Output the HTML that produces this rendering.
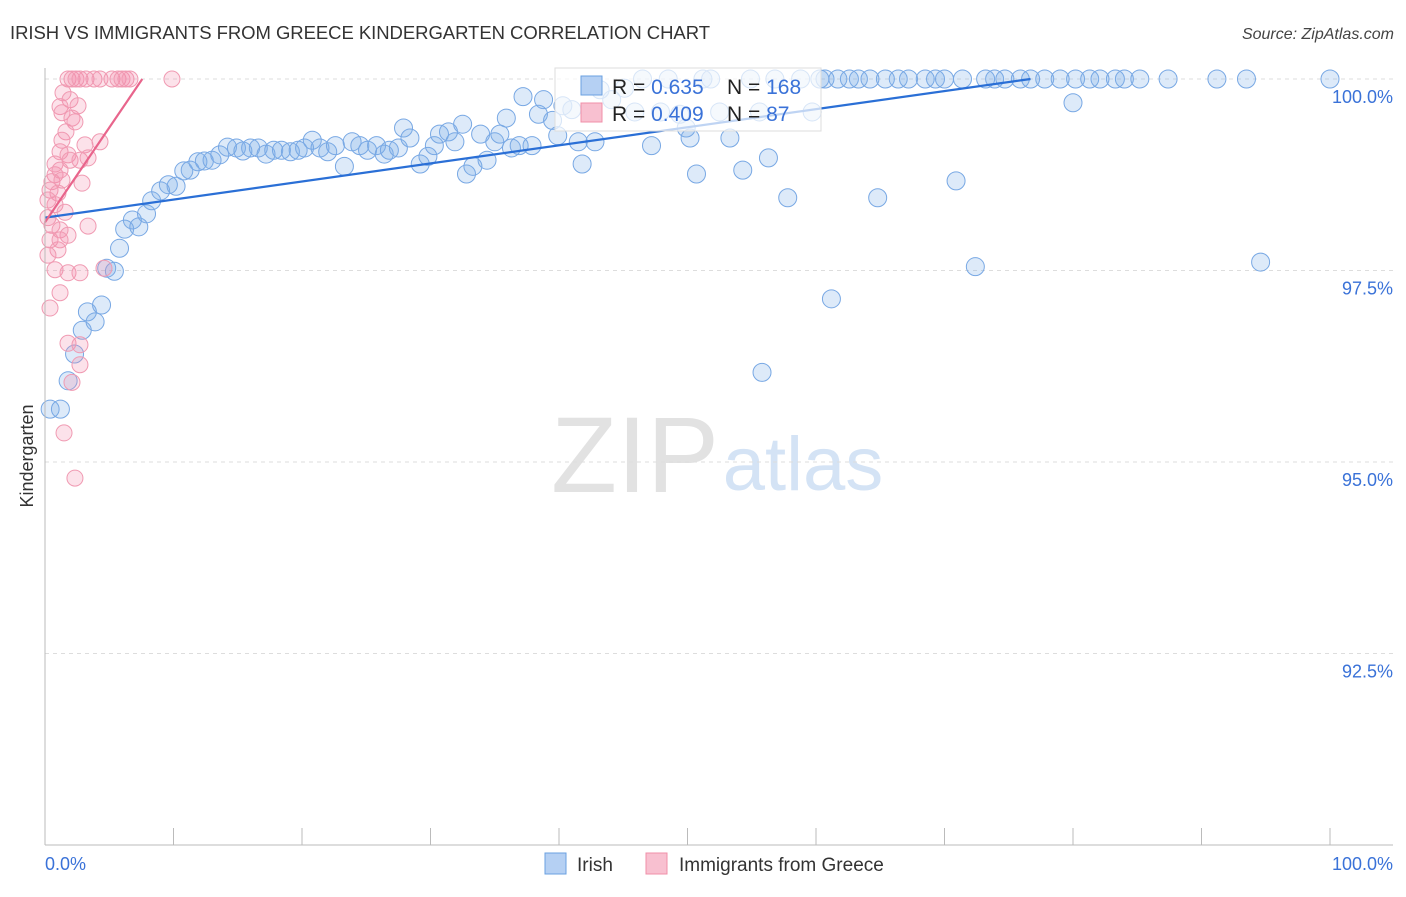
<!DOCTYPE html>
<html><head><meta charset="utf-8"><style>
body{margin:0;background:#fff;font-family:"Liberation Sans",sans-serif}
svg text{font-family:"Liberation Sans",sans-serif}
</style></head><body>
<svg id="c" width="1406" height="892" xmlns="http://www.w3.org/2000/svg">
<text x="10" y="39" font-size="18.5" fill="#333" textLength="700">IRISH VS IMMIGRANTS FROM GREECE KINDERGARTEN CORRELATION CHART</text>
<text x="1394" y="39" font-size="16" fill="#444" text-anchor="end" font-style="italic">Source: ZipAtlas.com</text>
<text x="635" y="492" font-size="108" fill="#e2e2e2" text-anchor="middle" font-family="Liberation Serif,serif">ZIP</text>
<text x="803" y="490" font-size="76" fill="#d4e3f5" text-anchor="middle">atlas</text>
<g id="grid"></g><g id="pts"></g><g id="lines"></g>
<line x1="45" y1="68" x2="45" y2="845" stroke="#bbb"/>
<line x1="45" y1="845" x2="1393" y2="845" stroke="#bbb"/>
<text x="45" y="870" font-size="18" fill="#3a72d8">0.0%</text>
<text x="1393" y="870" font-size="18" fill="#3a72d8" text-anchor="end">100.0%</text>
<text transform="translate(33,456) rotate(-90)" font-size="18" fill="#333" text-anchor="middle">Kindergarten</text>
<g>
<rect x="555" y="68" width="266" height="63" fill="#fff" fill-opacity="0.7" stroke="#ddd"/>
<rect x="581" y="76" width="21" height="19" fill="#b5d0f3" stroke="#6aa0e0"/>
<rect x="581" y="103" width="21" height="19" fill="#f8c0d0" stroke="#f08fa8"/>
<text x="612" y="94" font-size="21" fill="#222">R = <tspan fill="#3a72d8">0.635</tspan></text>
<text x="727" y="94" font-size="21" fill="#222">N = <tspan fill="#3a72d8">168</tspan></text>
<text x="612" y="121" font-size="21" fill="#222">R = <tspan fill="#3a72d8">0.409</tspan></text>
<text x="727" y="121" font-size="21" fill="#222">N = <tspan fill="#3a72d8">  87</tspan></text>
</g>
<g><rect x="545" y="853" width="21" height="21" fill="#b5d0f3" stroke="#6aa0e0"/><text x="577" y="871" font-size="19" fill="#333">Irish</text></g>
<g><rect x="646" y="853" width="21" height="21" fill="#f8c0d0" stroke="#f08fa8"/><text x="679" y="871" font-size="19" fill="#333">Immigrants from Greece</text></g>
</svg>
<script>
const yTicks=[100,97.5,95,92.5];
const yTickLabels=["100.0%","97.5%","95.0%","92.5%"];
const xTicks=[0,10,20,30,40,50,60,70,80,90,100];
const irishX=[0.4,1.2,1.8,2.3,2.9,3.3,3.9,4.4,4.8,5.4,5.8,6.2,6.8,7.3,7.9,8.3,9.0,9.6,10.2,10.8,11.3,11.9,12.4,13.0,13.6,14.2,14.9,15.4,16.0,16.6,17.2,17.8,18.4,19.1,19.7,20.2,20.8,21.4,22.0,22.6,23.3,23.9,24.5,25.1,25.8,26.4,26.8,27.5,27.9,28.4,29.2,29.8,30.3,30.7,31.4,31.9,32.5,32.8,33.3,33.9,34.4,35.0,35.4,35.9,36.3,36.9,37.2,37.9,38.4,38.8,39.5,39.9,40.3,41.0,41.5,41.8,42.8,43.2,44.1,45.1,45.9,46.5,47.2,47.9,48.5,49.4,49.9,50.2,50.7,51.2,51.8,52.5,53.3,54.3,54.9,55.6,56.3,56.8,57.8,58.8,59.7,60.3,60.7,61.2,61.7,62.6,63.3,64.2,64.8,65.4,66.4,67.2,68.5,69.3,70.0,70.9,71.4,72.4,73.2,73.9,74.7,75.9,76.7,77.8,79.0,80.0,80.2,81.3,82.1,83.3,84.0,85.2,87.4,91.2,93.5,94.6,100,55.8];
const irishY=[95.69,95.69,96.06,96.41,96.72,96.96,96.83,97.05,97.53,97.49,97.79,98.04,98.16,98.07,98.24,98.41,98.54,98.62,98.60,98.80,98.81,98.92,98.93,98.94,99.01,99.11,99.10,99.06,99.10,99.10,99.02,99.07,99.07,99.05,99.07,99.10,99.20,99.10,99.05,99.13,98.86,99.18,99.13,99.07,99.13,99.02,99.07,99.10,99.36,99.23,98.89,98.99,99.13,99.28,99.31,99.18,99.41,98.76,98.86,99.28,98.94,99.18,99.28,99.49,99.10,99.13,99.77,99.13,99.54,99.73,99.46,99.26,99.65,99.60,99.18,98.89,99.18,99.86,99.73,99.88,99.57,100,99.13,99.57,100,99.54,99.36,99.23,98.76,100,100,99.57,99.23,98.81,100,99.57,98.97,100,98.45,100,99.57,100,100,97.13,100,100,100,100,98.45,100,100,100,100,100,100,98.67,100,97.55,100,100,100,100,100,100,100,99.69,100,100,100,100,100,100,100,100,100,97.61,100,96.17];
const greeceX=[1.79,2.1,2.41,2.72,3.19,3.81,4.28,5.21,5.68,5.99,6.3,6.61,9.88,1.4,1.95,1.17,1.32,2.57,2.1,2.33,1.63,1.32,1.17,1.79,3.11,1.95,2.72,0.78,3.35,4.28,0.78,1.17,0.54,1.32,2.88,0.39,1.01,0.23,0.78,1.56,0.23,0.54,1.17,1.79,3.35,0.39,1.01,0.23,0.78,1.79,2.72,4.59,1.17,0.39,1.79,2.72,2.72,2.1,1.48,2.33,1.17];
const greeceY=[100,100,100,100,100,100,100,100,100,100,100,100,100,99.82,99.73,99.64,99.56,99.65,99.49,99.44,99.31,99.20,99.05,99.01,99.14,98.94,98.94,98.89,98.97,99.18,98.75,98.81,98.66,98.68,98.64,98.55,98.51,98.42,98.36,98.26,98.19,98.09,98.03,97.96,98.08,97.90,97.77,97.70,97.51,97.47,97.47,97.53,97.21,97.01,96.55,96.53,96.27,96.04,95.38,94.79,97.90];
const irishTrend=[98.19,0.0236];
const greeceTrend=[98.13,0.247];
const X0=45,X1=1330,Y100=79,PXV=76.6;
const xs=v=>X0+v*(X1-X0)/100, ys=v=>Y100+(100-v)*PXV;
const NS="http://www.w3.org/2000/svg";
function mk(t,a,p){const e=document.createElementNS(NS,t);for(const k in a)e.setAttribute(k,a[k]);p.appendChild(e);return e;}
const grid=document.getElementById('grid');
yTicks.forEach((v,i)=>{
 const l=mk('line',{x1:45,x2:1393,y1:ys(v),y2:ys(v),stroke:'#ddd','stroke-dasharray':'4,4'},grid);
 
 
 const t=mk('text',{x:1393,y:ys(v)+24,'font-size':18,fill:'#3a72d8','text-anchor':'end'},grid);
 t.textContent=yTickLabels[i];
 
 
});
xTicks.forEach(v=>{
 const l=mk('line',{x1:xs(v),x2:xs(v),y1:828,y2:845,stroke:'#bbb'},grid);
 
 
});
const pts=document.getElementById('pts');
irishX.forEach((x,i)=>{
 const c=mk('circle',{cx:xs(x),cy:ys(irishY[i]),r:9,fill:'rgba(120,170,232,0.25)',stroke:'#78a8e4','stroke-width':1},pts);
 
 
});
greeceX.forEach((x,i)=>{
 const c=mk('circle',{cx:xs(x),cy:ys(greeceY[i]),r:8,fill:'rgba(242,140,170,0.25)',stroke:'#f09ab2','stroke-width':1},pts);
 
 
});
const lines=document.getElementById('lines');
function trend(tr,col,name){
 let xe=Math.min(100,(100-tr[0])/tr[1]);
 const l=mk('line',{x1:xs(0),y1:ys(tr[0]),x2:xs(xe),y2:ys(tr[0]+tr[1]*xe),stroke:col,'stroke-width':2.2},lines);
 
 
}
trend(irishTrend,'#2a6fd6','irish-trend-line');
trend(greeceTrend,'#e8658c','greece-trend-line');
</script>
</body></html>
